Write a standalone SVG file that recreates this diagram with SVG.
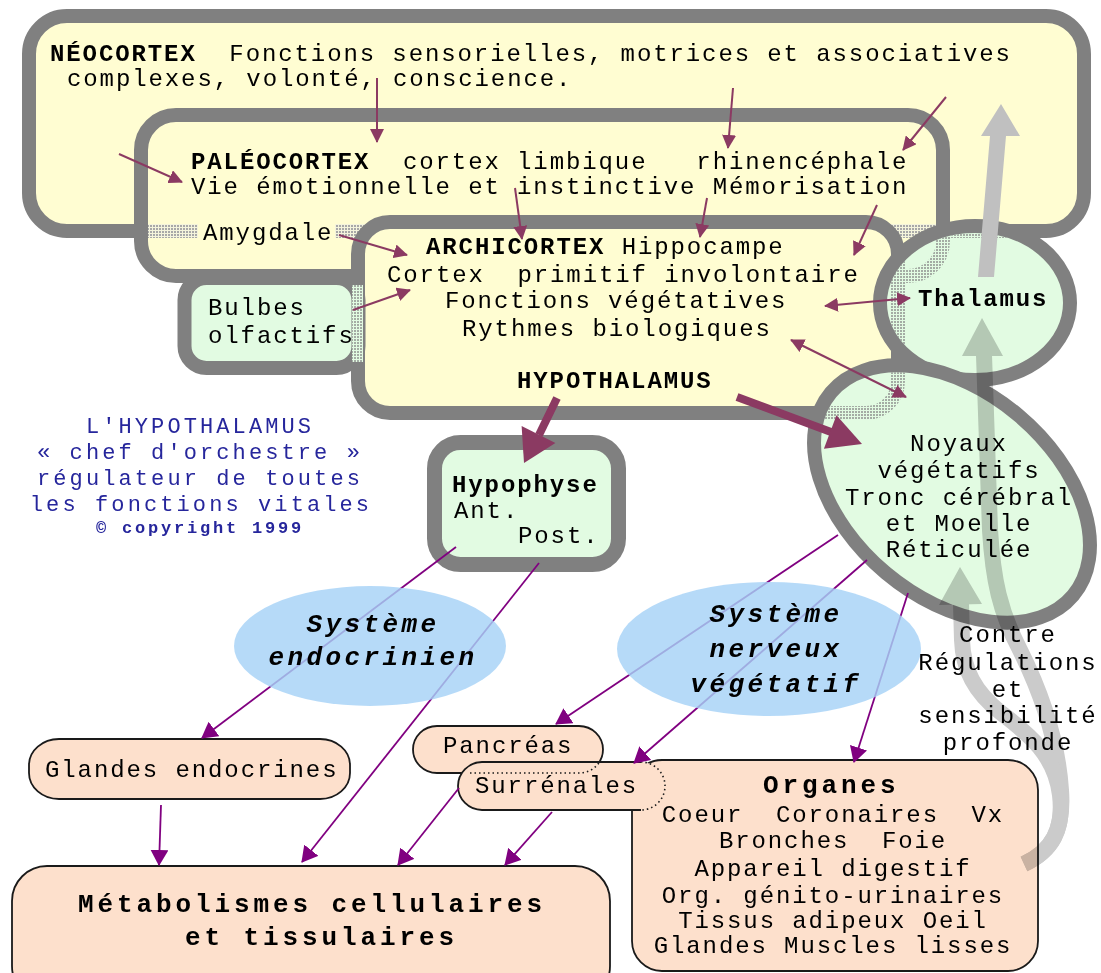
<svg xmlns="http://www.w3.org/2000/svg" width="1101" height="973" viewBox="0 0 1101 973" xml:space="preserve">
<style>
.t{font-family:"Liberation Mono","Courier New",monospace;font-size:24px;letter-spacing:1.9px;fill:#000;white-space:pre}
.b{font-weight:bold}
.L{font-size:26px;letter-spacing:3.9px;font-weight:bold}
.e{font-size:26px;letter-spacing:3.4px;font-weight:bold;font-style:italic}
.cap{fill:#26269c;font-size:22px;letter-spacing:3.1px}
.m{text-anchor:middle}
.gy{fill:#fffdd2;stroke:#808080;stroke-width:14}
.gg{fill:#e2fbe2;stroke:#808080;stroke-width:14}
.pe{fill:#fde0cc;stroke:#1a1a1a;stroke-width:1.8}
.blue{fill:#a6d2f6;fill-opacity:0.82}
.ma{stroke:#8b3a62;stroke-width:2;fill:none}
.pu{stroke:#800080;stroke-width:1.8;fill:none}
.dotl{fill:none;stroke:#1a1a1a;stroke-width:1.6;stroke-dasharray:1.5 3}
</style>
<defs>
<pattern id="dotY" width="3" height="3" patternUnits="userSpaceOnUse"><rect width="3" height="3" fill="#f4f4dc"/><rect width="2" height="2" fill="#a8a8a8"/></pattern>
<pattern id="dotG" width="3" height="3" patternUnits="userSpaceOnUse"><rect width="3" height="3" fill="#e2fbe2"/><rect width="2" height="2" fill="#a4aca4"/></pattern>
<marker id="mh" markerUnits="userSpaceOnUse" markerWidth="14" markerHeight="14" viewBox="0 0 14 14" refX="13" refY="7" orient="auto-start-reverse"><path d="M0,0 L14,7 L0,14 Z" fill="#8b3a62"/></marker>
<marker id="ph" markerUnits="userSpaceOnUse" markerWidth="16" markerHeight="18" viewBox="0 0 16 18" refX="15" refY="9" orient="auto"><path d="M0,0 L16,9 L0,18 Z" fill="#800080"/></marker>
<clipPath id="thalIn"><ellipse cx="975" cy="303" rx="88" ry="70"/></clipPath>
<clipPath id="noyIn"><ellipse cx="952" cy="494" rx="151" ry="96" transform="rotate(40 952 494)"/></clipPath>
</defs>

<g id="neocortex">
<rect class="gy" x="29" y="16" width="1055" height="215" rx="38"/>
<text class="t" x="50" y="61"><tspan class="b">NÉOCORTEX</tspan>  Fonctions sensorielles, motrices et associatives</text>
<text class="t" x="67" y="86">complexes, volonté, conscience.</text>
</g>

<g id="paleocortex">
<rect class="gy" x="141" y="115" width="802" height="161" rx="35"/>
<rect x="148" y="224" width="50" height="14" fill="url(#dotY)"/>
<rect x="335" y="224" width="601" height="14" fill="url(#dotY)"/>
<text class="t" x="191" y="169"><tspan class="b">PALÉOCORTEX</tspan>  cortex limbique   rhinencéphale</text>
<text class="t" x="191" y="194">Vie émotionnelle et instinctive Mémorisation</text>
<text class="t" x="203" y="240">Amygdale</text>
</g>

<g id="archicortex">
<rect class="gy" x="358" y="222" width="540" height="191" rx="32"/>
<text class="t" x="426" y="254"><tspan class="b">ARCHICORTEX</tspan> Hippocampe</text>
<text class="t" x="387" y="282">Cortex  primitif involontaire</text>
<text class="t" x="445" y="308">Fonctions végétatives</text>
<text class="t" x="462" y="336">Rythmes biologiques</text>
<text class="t b" x="517" y="388">HYPOTHALAMUS</text>
</g>

<g id="bulbes">
<rect class="gg" x="184.5" y="278" width="174" height="90" rx="22"/>
<rect x="352" y="285" width="11" height="77" fill="url(#dotG)"/>
<text class="t" x="208" y="315">Bulbes</text>
<text class="t" x="208" y="343">olfactifs</text>
</g>

<g id="thalamus">
<ellipse cx="975" cy="303" rx="95" ry="77" fill="#e2fbe2"/>
<g clip-path="url(#thalIn)">
<line x1="870" y1="231" x2="1090" y2="231" stroke="url(#dotG)" stroke-width="14"/>
<rect x="358" y="222" width="540" height="191" rx="32" fill="none" stroke="url(#dotG)" stroke-width="14"/>
<rect x="141" y="115" width="802" height="161" rx="35" fill="none" stroke="url(#dotG)" stroke-width="14"/>
</g>
<ellipse cx="975" cy="303" rx="95" ry="77" fill="none" stroke="#808080" stroke-width="14"/>
<text class="t b" x="918" y="306">Thalamus</text>
</g>

<g id="noyaux">
<ellipse cx="952" cy="494" rx="158" ry="103" transform="rotate(40 952 494)" fill="#e2fbe2"/>
<g clip-path="url(#noyIn)">
<rect x="358" y="222" width="540" height="191" rx="32" fill="none" stroke="url(#dotG)" stroke-width="14"/>
</g>
<ellipse cx="952" cy="494" rx="158" ry="103" transform="rotate(40 952 494)" fill="none" stroke="#808080" stroke-width="14"/>
<text class="t m" x="959" y="451">Noyaux</text>
<text class="t m" x="959" y="478">végétatifs</text>
<text class="t m" x="959" y="505">Tronc cérébral</text>
<text class="t m" x="959" y="531">et Moelle</text>
<text class="t m" x="959" y="557">Réticulée</text>
</g>

<g id="hypophyse">
<rect class="gg" x="434.5" y="442.5" width="184" height="122" rx="26" style="stroke-width:15"/>
<text class="t b" x="452" y="492">Hypophyse</text>
<text class="t" x="454" y="518">Ant.</text>
<text class="t" x="518" y="543">Post.</text>
</g>

<g id="glandes">
<rect class="pe" x="29" y="739" width="321" height="60" rx="30" ry="26"/>
<text class="t" x="45" y="777">Glandes endocrines</text>
</g>

<g id="metabolismes">
<rect class="pe" x="12" y="866" width="598" height="135" rx="35"/>
<text class="t L" x="78" y="912">Métabolismes cellulaires</text>
<text class="t L" x="185" y="945">et tissulaires</text>
</g>

<g id="organes">
<rect class="pe" x="632" y="760" width="406" height="211" rx="30"/>
<text class="t L" x="763" y="793">Organes</text>
<text class="t m" x="833" y="822">Coeur  Coronaires  Vx</text>
<text class="t m" x="833" y="848">Bronches  Foie</text>
<text class="t m" x="833" y="876">Appareil digestif</text>
<text class="t m" x="833" y="903">Org. génito-urinaires</text>
<text class="t m" x="833" y="928">Tissus adipeux Oeil</text>
<text class="t m" x="833" y="953">Glandes Muscles lisses</text>
</g>

<g id="pancreas">
<rect class="pe" x="413" y="726" width="190" height="47" rx="24" ry="23.5"/>
<text class="t" x="443" y="753">Pancréas</text>
</g>

<g id="surrenales">
<rect x="458" y="762" width="207" height="48" rx="24" fill="#fde0cc"/>
<path class="dotl" d="M470,773 L579.5,773 A23.5,23.5 0 0 0 599.4,762"/>
<path d="M641,762 L482,762 A24,24 0 0 0 482,810 L641,810" fill="none" stroke="#1a1a1a" stroke-width="1.8"/>
<path class="dotl" d="M641,762 A24,24 0 0 1 641,810"/>
<text class="t" x="475" y="793">Surrénales</text>
</g>

<g id="caption">
<text class="t cap m" x="200" y="433">L'HYPOTHALAMUS</text>
<text class="t cap m" x="200" y="459">« chef d'orchestre »</text>
<text class="t cap m" x="200" y="485">régulateur de toutes</text>
<text class="t cap m" x="201" y="511">les fonctions vitales</text>
<text class="t cap m b" x="200" y="533" style="font-size:17px;letter-spacing:2.8px">© copyright 1999</text>
</g>

<g id="connectors">
<line class="ma" x1="119" y1="154" x2="182" y2="182" marker-end="url(#mh)"/>
<line class="ma" x1="377" y1="78" x2="377" y2="142" marker-end="url(#mh)"/>
<line class="ma" x1="733" y1="88" x2="728" y2="148" marker-end="url(#mh)"/>
<line class="ma" x1="946" y1="97" x2="903" y2="150" marker-end="url(#mh)"/>
<line class="ma" x1="515" y1="188" x2="522" y2="239" marker-end="url(#mh)"/>
<line class="ma" x1="707" y1="198" x2="700" y2="237" marker-end="url(#mh)"/>
<line class="ma" x1="877" y1="205" x2="854" y2="255" marker-end="url(#mh)"/>
<line class="ma" x1="339" y1="235" x2="407" y2="255" marker-end="url(#mh)"/>
<line class="ma" x1="353" y1="310" x2="410" y2="290" marker-end="url(#mh)"/>
<line class="ma" x1="825" y1="306" x2="910" y2="298" marker-start="url(#mh)" marker-end="url(#mh)"/>
<line class="ma" x1="791" y1="340" x2="906" y2="397" marker-start="url(#mh)" marker-end="url(#mh)"/>
<line x1="557" y1="398" x2="539" y2="435" stroke="#8b3a62" stroke-width="8"/>
<polygon points="555.4,443.1 521.6,425.9 524,463" fill="#8b3a62"/>
<line x1="737" y1="397" x2="831" y2="432" stroke="#8b3a62" stroke-width="8"/>
<polygon points="823.9,448.8 836.5,415.2 862,444" fill="#8b3a62"/>
<line class="pu" x1="456" y1="547" x2="202" y2="738" marker-end="url(#ph)"/>
<line class="pu" x1="539" y1="563" x2="302" y2="862" marker-end="url(#ph)"/>
<line class="pu" x1="161" y1="805" x2="159" y2="865" marker-end="url(#ph)"/>
<line class="pu" x1="838" y1="535" x2="556" y2="724" marker-end="url(#ph)"/>
<line class="pu" x1="867" y1="560" x2="634" y2="763" marker-end="url(#ph)"/>
<line class="pu" x1="908" y1="593" x2="854" y2="762" marker-end="url(#ph)"/>
<line class="pu" x1="459" y1="788" x2="398" y2="865" marker-end="url(#ph)"/>
<line class="pu" x1="552" y1="812" x2="505" y2="865" marker-end="url(#ph)"/>
<polygon points="978,277 990,136 981,136 1001,104 1020,136 1006,136 994,277" fill="#c0c0c0"/>
<g style="mix-blend-mode:multiply">
<path d="M1024,864 C1052,851 1064,830 1061,790 C1058,745 1045,700 1020,650 C1000,612 993,580 990,530 L984,355" fill="none" stroke="#cbcbcb" stroke-width="16"/>
<polygon points="962,356 1003,356 982,318" fill="#cbcbcb"/>
<path d="M1024,864 C1052,851 1064,830 1060,795 C1055,755 1030,735 1000,712 C975,692 963,670 962,640 L961,603" fill="none" stroke="#cbcbcb" stroke-width="16"/>
<polygon points="939,605 982,604 960,567" fill="#cbcbcb"/>
</g>
</g>

<g id="systeme-endocrinien">
<ellipse class="blue" cx="370" cy="646" rx="136" ry="60"/>
<text class="t e m" x="373" y="632">Système</text>
<text class="t e m" x="373" y="665">endocrinien</text>
</g>

<g id="systeme-nerveux">
<ellipse class="blue" cx="769" cy="649" rx="152" ry="67"/>
<text class="t e m" x="776" y="622">Système</text>
<text class="t e m" x="776" y="657">nerveux</text>
<text class="t e m" x="776" y="692">végétatif</text>
</g>

<g id="label-contre">
<text class="t m" x="1008" y="642">Contre</text>
<text class="t m" x="1008" y="670">Régulations</text>
<text class="t m" x="1008" y="697">et</text>
<text class="t m" x="1008" y="723">sensibilité</text>
<text class="t m" x="1008" y="750">profonde</text>
</g>
</svg>
